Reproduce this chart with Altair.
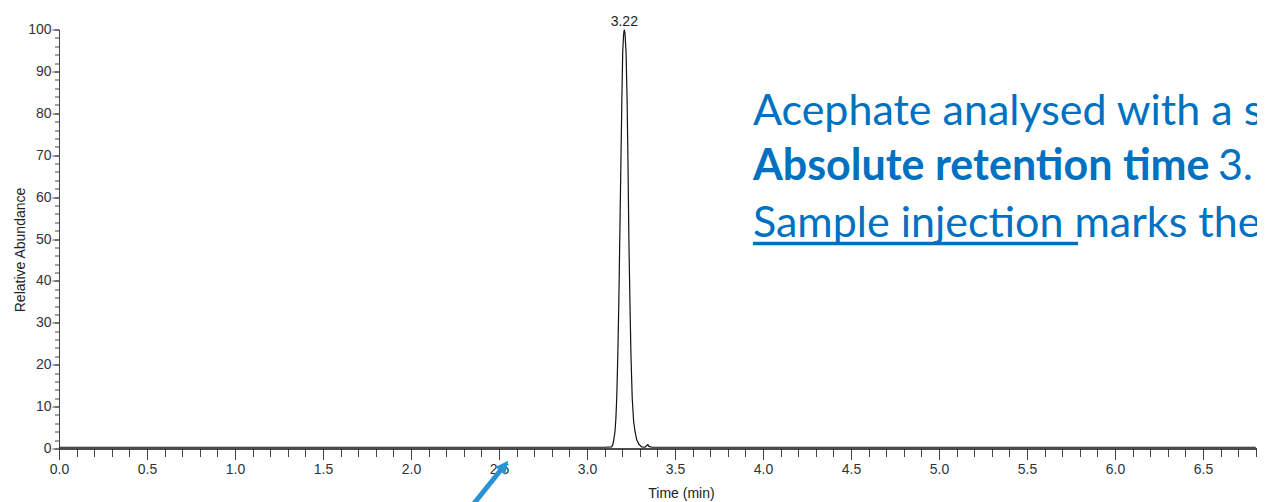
import altair as alt
import pandas as pd

# ---- chromatogram trace (time in min, relative abundance in %) ----
time_min = [0.0, 1.0, 2.0, 3.0, 3.100, 3.140, 3.146, 3.152, 3.159, 3.164, 3.169,
            3.175, 3.181, 3.187, 3.193, 3.198, 3.203, 3.208, 3.212, 3.216, 3.222,
            3.228, 3.233, 3.238, 3.244, 3.250, 3.257, 3.265, 3.273, 3.283, 3.295,
            3.311, 3.330, 3.340, 3.346, 3.352, 3.370, 4.0, 5.0, 6.0, 6.80]
abundance = [0.3, 0.3, 0.3, 0.3, 0.3, 0.4, 0.8, 2.0, 4.0, 7.0, 12.0,
             22.0, 35.0, 52.0, 69.0, 83.0, 94.7, 98.8, 100.0, 99.0, 94.7,
             83.0, 68.0, 50.0, 35.0, 22.0, 12.0, 6.5, 4.0, 2.0, 1.0,
             0.4, 0.3, 0.7, 0.9, 0.5, 0.3, 0.3, 0.3, 0.3, 0.3]

# ---- peak label ----
peak_time = [3.212]
peak_value = [100.0]
peak_text = ["3.22"]

# ---- axis ticks ----
x_major = [0.0, 0.5, 1.0, 1.5, 2.0, 2.5, 3.0, 3.5, 4.0, 4.5, 5.0, 5.5, 6.0, 6.5]
x_minor = [round(i * 0.1, 1) for i in range(69)]
y_major = [0, 10, 20, 30, 40, 50, 60, 70, 80, 90, 100]
y_minor = list(range(0, 101, 2))

# ---- slide annotation text ----
note_text = ["Acephate analysed with a s", "Absolute retention time", "3.", "Sample injection marks the"]
note_x = [3.943, 3.943, 6.585, 3.943]
note_y = [77.2, 64.1, 64.1, 50.5]
note_weight = ["normal", "bold", "normal", "normal"]

underline_x = [3.943]
underline_x2 = [5.790]
underline_y = [48.9]

# arrow (tail -> shaft end, head tip)
arrow_tail_x = [2.324]
arrow_tail_y = [-14.9]
arrow_end_x = [2.517]
arrow_end_y = [-4.77]
arrow_tip_x = [2.553]
arrow_tip_y = [-2.91]

NARROW = "Liberation Sans, Arial, sans-serif"
FS = 14
BLUE = "#0070C0"
ARROW = "#2A92D5"

trace = pd.DataFrame({"t": time_min, "a": abundance})
peak = pd.DataFrame({"t": peak_time, "a": peak_value, "label": peak_text})
notes = pd.DataFrame({"t": note_x, "a": note_y, "txt": note_text, "w": note_weight})
uline = pd.DataFrame({"t": underline_x, "t2": underline_x2, "a": underline_y})
shaft = pd.DataFrame({"t": arrow_tail_x, "a": arrow_tail_y, "t2": arrow_end_x, "a2": arrow_end_y})
head = pd.DataFrame({"t": arrow_tip_x, "a": arrow_tip_y})

xscale = alt.Scale(domain=[0, 6.807], nice=False, zero=False)
yscale = alt.Scale(domain=[0, 100], nice=False, zero=False)

x_major_axis = alt.Axis(orient="bottom", values=x_major, format=".1f", tickSize=11,
                        tickColor="#444", tickWidth=1, domainColor="#111", domainWidth=1.5,
                        labelFont=NARROW, labelFontSize=FS, labelColor="#333", labelPadding=3,
                        labelFlush=False, labelOverlap=False, grid=False,
                        title="Time (min)", titleX=622, titleY=49, titleBaseline="alphabetic",
                        titleAlign="center", titleFont=NARROW, titleFontSize=FS,
                        titleFontWeight="normal", titleColor="#222")
y_major_axis = alt.Axis(orient="left", values=y_major, tickSize=7, tickColor="#444",
                        domainColor="#444", domainWidth=1, labelFont=NARROW, labelFontSize=FS,
                        labelColor="#333", labelPadding=1, labelFlush=False, labelOverlap=False,
                        grid=False, title="Relative Abundance", titleX=-35, titleY=220,
                        titleAngle=270, titleBaseline="alphabetic", titleAlign="center",
                        titleFont=NARROW, titleFontSize=FS, titleFontWeight="normal",
                        titleColor="#222")
x_minor_axis = alt.Axis(orient="bottom", values=x_minor, tickSize=8, tickColor="#444",
                        labels=False, domain=False, grid=False, title=None)
y_minor_axis = alt.Axis(orient="left", values=y_minor, tickSize=4.5, tickColor="#444",
                        labels=False, domain=False, grid=False, title=None)

line = alt.Chart(trace).mark_line(color="#111", strokeWidth=1.2).encode(
    x=alt.X("t:Q", scale=xscale, axis=x_major_axis),
    y=alt.Y("a:Q", scale=yscale, axis=y_major_axis),
)
minor = alt.Chart(trace).mark_line(opacity=0).encode(
    x=alt.X("t:Q", scale=xscale, axis=x_minor_axis),
    y=alt.Y("a:Q", scale=yscale, axis=y_minor_axis),
)
peak_lbl = alt.Chart(peak).mark_text(font=NARROW, fontSize=FS, color="#222",
                                      baseline="alphabetic", align="center", dy=-4).encode(
    x=alt.X("t:Q", scale=xscale, axis=None),
    y=alt.Y("a:Q", scale=yscale, axis=None),
    text="label:N",
)
note_layers = []
for w in ["normal", "bold"]:
    note_layers.append(
        alt.Chart(notes[notes["w"] == w]).mark_text(font="Lato", fontSize=43, color=BLUE,
                                                    align="left", baseline="alphabetic",
                                                    fontWeight=w).encode(
            x=alt.X("t:Q", scale=xscale, axis=None),
            y=alt.Y("a:Q", scale=yscale, axis=None),
            text="txt:N",
        )
    )
under = alt.Chart(uline).mark_rule(color=BLUE, strokeWidth=3.5).encode(
    x=alt.X("t:Q", scale=xscale, axis=None),
    x2="t2:Q",
    y=alt.Y("a:Q", scale=yscale, axis=None),
)
arrow_shaft = alt.Chart(shaft).mark_rule(color=ARROW, strokeWidth=5).encode(
    x=alt.X("t:Q", scale=xscale, axis=None),
    y=alt.Y("a:Q", scale=yscale, axis=None),
    x2="t2:Q",
    y2="a2:Q",
)
arrow_head = alt.Chart(head).mark_point(shape="M0,0 L0.48,1 L-0.48,1 Z", filled=True,
                                        size=676, angle=38.76, color=ARROW, opacity=1,
                                        strokeWidth=0).encode(
    x=alt.X("t:Q", scale=xscale, axis=None),
    y=alt.Y("a:Q", scale=yscale, axis=None),
)

chart = alt.layer(minor, line, peak_lbl, *note_layers, under, arrow_shaft, arrow_head).resolve_axis(
    x="independent", y="independent"
).properties(
    width=1198, height=419,
    padding={"left": 51, "top": 21.5, "right": 0, "bottom": 53.5},
    autosize=alt.AutoSizeParams(type="none"),
    background="white",
).configure_view(stroke=None)

chart.save("out.html", embed_options={"renderer": "svg", "actions": False})
